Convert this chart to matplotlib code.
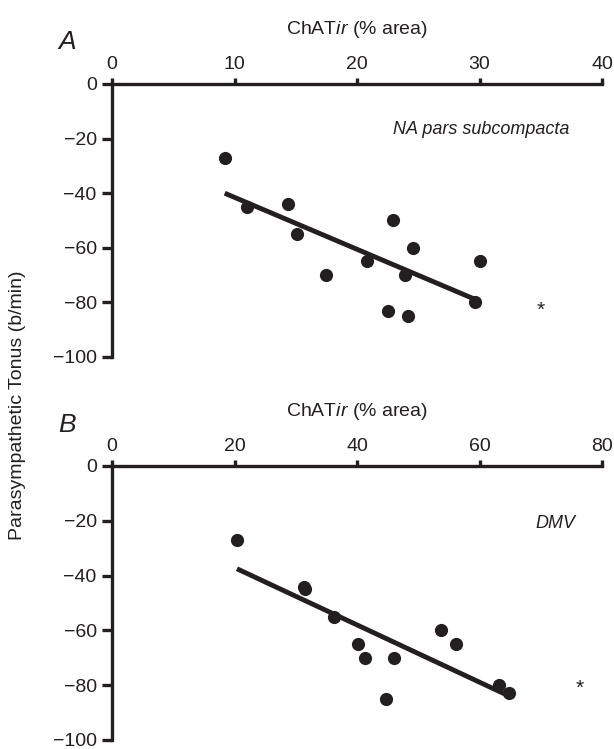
import matplotlib
matplotlib.use("Agg")
import matplotlib.pyplot as plt
import numpy as np

plt.rcParams['font.family'] = ['Liberation Sans', 'DejaVu Sans']
plt.rcParams['mathtext.fontset'] = 'custom'
plt.rcParams['mathtext.rm'] = 'Liberation Sans'
plt.rcParams['mathtext.it'] = 'Liberation Sans:italic'

# Panel A: NA pars subcompacta
a_x = [9.2, 11.0, 14.4, 15.1, 17.5, 20.8, 22.9, 22.5, 23.9, 24.6, 24.2, 29.6, 30.0]
a_y = [-27, -45, -44, -55, -70, -65, -50, -83, -70, -60, -85, -80, -65]
a_fit_x = [9.2, 29.7]
a_fit_y = [-40, -79]
a_xticks = [0, 10, 20, 30, 40]

# Panel B: DMV
b_x = [20.4, 31.3, 31.5, 36.3, 40.2, 41.3, 46.1, 44.7, 53.7, 56.2, 63.2, 64.8]
b_y = [-27, -44, -45, -55, -65, -70, -70, -85, -60, -65, -80, -83]
b_fit_x = [20.4, 64.4]
b_fit_y = [-37.5, -83.5]
b_xticks = [0, 20, 40, 60, 80]

yticks = [0, -20, -40, -60, -80, -100]

C = '#231f20'
W, H = 614, 749
FS = 14
fig = plt.figure(figsize=(W / 100, H / 100), dpi=100)

def make_ax(top_px, bottom_px, xmax, xticks, xs, ys, fx, fy, label, star, label_xy,
            letter, letter_y):
    ax = fig.add_axes([112 / W, 1 - bottom_px / H, 490 / W, (bottom_px - top_px) / H])
    ax.set_xlim(0, xmax)
    ax.set_ylim(-100, 0)
    for s in ['right', 'bottom']:
        ax.spines[s].set_visible(False)
    for s in ['left', 'top']:
        ax.spines[s].set_linewidth(2.4)
        ax.spines[s].set_color(C)
        ax.spines[s].set_capstyle('projecting')
    ax.xaxis.set_ticks_position('top')
    ax.xaxis.set_label_position('top')
    ax.set_xticks(xticks)
    ax.set_yticks(yticks)
    ax.tick_params(axis='x', direction='out', length=4, width=2.4, color=C,
                   labelsize=FS, pad=4, labelcolor=C)
    ax.tick_params(axis='y', direction='out', length=7, width=2.4, color=C,
                   labelsize=FS, pad=4, labelcolor=C)
    ax.set_xlabel(r'ChAT$\it{ir}$ (% area)', fontsize=FS, color=C, labelpad=16)
    ax.plot(fx, fy, color=C, lw=3.5, solid_capstyle='butt')
    ax.plot(xs, ys, 'o', color=C, markersize=9.5, mec='none')
    ax.text(label_xy[0], label_xy[1], label, style='italic', fontsize=13, color=C,
            ha='right', va='center')
    ax.text(star[0], star[1], '*', fontsize=15, color=C, ha='center', va='center')
    fig.text(67 / W, 1 - letter_y / H, letter, style='italic',
             fontsize=19, color=C, ha='center', va='center')
    return ax

make_ax(84, 357, 40, a_xticks, a_x, a_y, a_fit_x, a_fit_y,
        'NA pars subcompacta', (35.0, -83), (37.3, -16.5), 'A', 42)
make_ax(466, 740, 80, b_xticks, b_x, b_y, b_fit_x, b_fit_y,
        'DMV', (76.3, -81), (75.7, -21), 'B', 425)

fig.text(18 / W, 1 - 405 / H, 'Parasympathetic Tonus (b/min)', rotation=90,
         fontsize=FS, color=C, ha='center', va='center')

fig.savefig('out.png', dpi=100)
